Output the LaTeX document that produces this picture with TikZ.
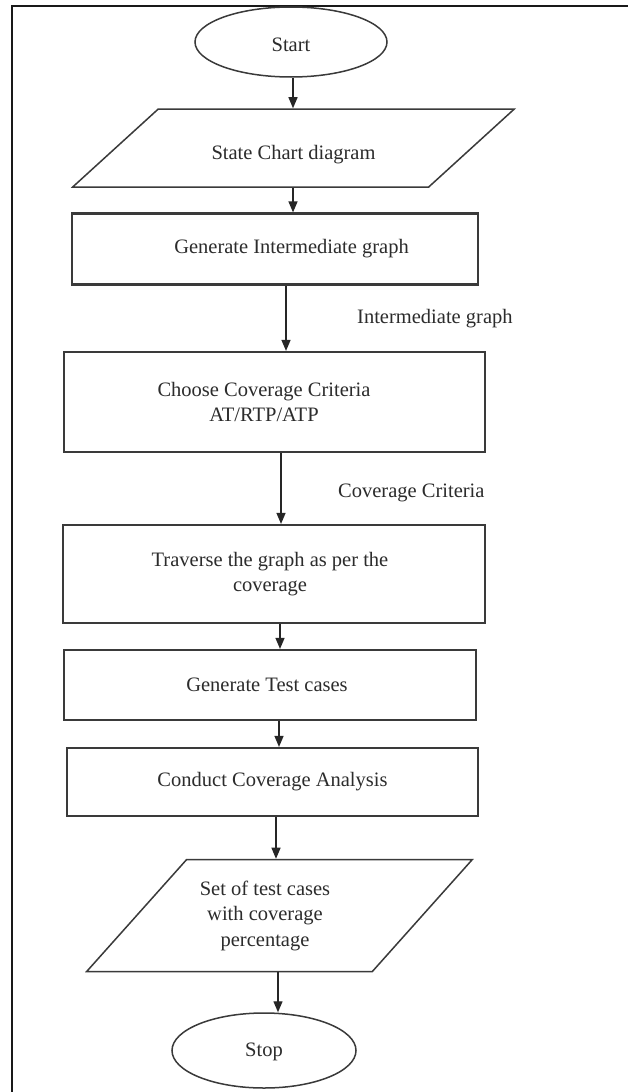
\documentclass[tikz,border=0pt]{standalone}
\usepackage{fontspec}
\setmainfont{Liberation Serif}
\usetikzlibrary{shapes.geometric,arrows.meta}
\definecolor{ink}{HTML}{2C2C2C}
\definecolor{edge}{HTML}{3A3A3A}
\begin{document}
\begin{tikzpicture}[x=1pt,y=-1pt,
  every node/.style={font=\fontsize{20.5pt}{25.5pt}\selectfont, text=ink, inner sep=0pt, align=center},
  box/.style={draw=edge, line width=2.2pt, rectangle},
  term/.style={draw=edge, line width=1.5pt, ellipse},
  io/.style={draw=edge, line width=1.5pt, trapezium, trapezium stretches=true},
  flow/.style={draw=black!85, line width=1.3pt, -{Triangle[length=11pt,width=9pt]}},
  note/.style={anchor=west},
  frame/.style={draw=black!90, line width=2pt}]

\useasboundingbox (0,0) rectangle (628,1092);
\fill[white] (0,0) rectangle (628,1092);

% page frame (left and top edges)
\draw[frame] (12,1092) -- (12,6) -- (628,6);

% flowchart nodes
\node[term, minimum width=192pt, minimum height=70pt, text height=20pt] (start) at (291,42) {Start};
\node[io, trapezium left angle=32, trapezium right angle=148,
      minimum width=443pt, minimum height=78pt, text height=28pt] (scd) at (293.5,148) {State Chart diagram};
\node[box, minimum width=406pt, minimum height=71pt] (gen) at (275,249) {\hspace*{33pt}Generate Intermediate graph};
\node[box, minimum width=421pt, minimum height=100pt] (choose) at (274.5,402)
  {\hspace*{-21pt}Choose Coverage Criteria\\\hspace*{-21pt}AT/RTP/ATP};
\node[box, minimum width=422pt, minimum height=98pt] (trav) at (274,574)
  {\hspace*{-8pt}Traverse the graph as per the\\\hspace*{-8pt}coverage};
\node[box, minimum width=412pt, minimum height=70pt] (tests) at (270,685) {\hspace*{-6pt}Generate Test cases};
\node[box, minimum width=411pt, minimum height=68pt] (conduct) at (272.5,782) {Conduct Coverage Analysis};
\node[io, trapezium left angle=52, trapezium right angle=128,
      minimum width=386pt, minimum height=112pt] (result) at (279.5,915.5)
  {\hspace*{-29pt}Set of test cases\\\hspace*{-29pt}with coverage\\\hspace*{-29pt}percentage};
\node[term, minimum width=184pt, minimum height=75pt, text height=17pt] (stop) at (264,1050.5) {Stop};

% edge labels
\node[note] (lblgraph) at (357,319) {Intermediate graph};
\node[note] (lblcrit) at (338,493) {Coverage Criteria};

% vertical guide lines for the connectors
\coordinate (c1) at (293,0);
\coordinate (c2) at (286,0);
\coordinate (c3) at (281,0);
\coordinate (c4) at (280,0);
\coordinate (c5) at (279,0);
\coordinate (c6) at (276,0);
\coordinate (c7) at (278,0);

% connectors
\draw[flow] (start.south -| c1) -- (scd.north -| c1);
\draw[flow] (scd.south -| c1) -- (gen.north -| c1);
\draw[flow] (gen.south -| c2) -- (choose.north -| c2);
\draw[flow] (choose.south -| c3) -- (trav.north -| c3);
\draw[flow] (trav.south -| c4) -- (tests.north -| c4);
\draw[flow] (tests.south -| c5) -- (conduct.north -| c5);
\draw[flow] (conduct.south -| c6) -- (result.north -| c6);
\draw[flow] (result.south -| c7) -- (stop.north -| c7);
\end{tikzpicture}
\end{document}
